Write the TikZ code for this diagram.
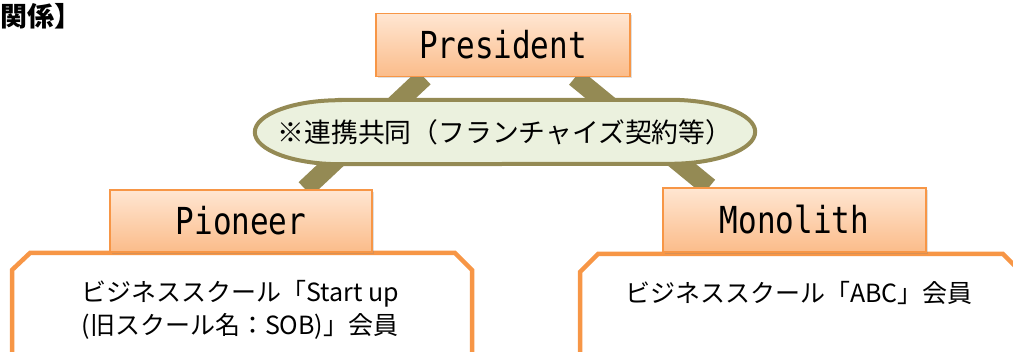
\documentclass[tikz,border=0pt]{standalone}
\usepackage{fontspec}
\newfontfamily\jp{Noto Sans CJK JP}
\newfontfamily\mono{DejaVu Sans Mono}
\usetikzlibrary{shapes.geometric,shadows,calc}
\pgfdeclarelayer{bg}
\pgfdeclarelayer{mid}
\pgfsetlayers{bg,mid,main}
\definecolor{orgborder}{HTML}{F79646}
\definecolor{orgtop}{HTML}{FFE6D2}
\definecolor{orgbot}{HTML}{FBBC8A}
\definecolor{olive}{HTML}{948A54}
\definecolor{olivefill}{HTML}{EBF1DE}
\newcommand{\tallmono}[1]{\scalebox{1}[1.2]{#1}}
\tikzset{
  rolebox/.style={draw=orgborder, line width=1.8pt, top color=orgtop, bottom color=orgbot,
    minimum height=63pt, inner sep=0pt, font=\mono\fontsize{31}{31}\selectfont,
    drop shadow={shadow xshift=2pt, shadow yshift=-2pt, opacity=0.25}},
  memberbox/.style={draw=orgborder, line width=4.5pt, fill=white, line join=miter},
  band/.style={draw=olive, line width=19pt},
  ovalline/.style={draw=olive, line width=4pt, fill=olivefill},
  ovaltext/.style={rectangle, minimum width=504pt, minimum height=64pt, inner sep=0pt,
    font=\jp\fontsize{26.8}{27}\selectfont},
  jptext/.style={font=\jp\fontsize{25}{33}\selectfont, align=center, inner sep=0pt}
}
\begin{document}
\begin{tikzpicture}[x=1pt,y=-1pt]
\useasboundingbox (0,0) rectangle (1013,352);
\clip (0,0) rectangle (1013,352);
% title fragment
\node[anchor=west, inner sep=0pt, font=\jp\bfseries\fontsize{27}{27}\selectfont] (ttl) at (0,16) {関係】};
% role boxes
\node[rolebox, minimum width=254pt] (pres) at (503,45) {\tallmono{President}};
\node[rolebox, minimum width=262pt, minimum height=62pt] (pio) at (241,221) {\tallmono{Pioneer}};
\node[rolebox, minimum width=263pt, minimum height=64pt] (mono) at (794.5,220) {\tallmono{Monolith}};
% oval text
\node[ovaltext] (link) at (505,132) {※連携共同（フランチャイズ契約等）};
% member texts
\node[jptext] (pt) at (240,310) {ビジネススクール「Start up\\(旧スクール名：SOB)」会員};
\node[jptext] (mt) at (799,293) {ビジネススクール「ABC」会員};
\begin{pgfonlayer}{mid}
\draw[ovalline] ([xshift=87pt]link.north west) -- ([xshift=-87pt]link.north east)
  arc[start angle=-90, end angle=90, x radius=85, y radius=32]
  -- ([xshift=87pt]link.south west)
  arc[start angle=90, end angle=270, x radius=85, y radius=32] -- cycle;
\end{pgfonlayer}
\begin{pgfonlayer}{bg}
% member boxes
\draw[memberbox] (12,270) -- (30,253) -- (455,253) -- (472,270) -- (472,370) -- (12,370) -- cycle;
\draw[memberbox] (580,272) -- (598,254) -- (1003,254) -- (1021,272) -- (1021,370) -- (580,370) -- cycle;
% connectors
\draw[band] ([xshift=49pt]pres.south west) -- ([xshift=196pt]pio.north west);
\draw[band] ([xshift=200pt]pres.south west) -- ([xshift=47pt]mono.north west);
\end{pgfonlayer}
\end{tikzpicture}
\end{document}
